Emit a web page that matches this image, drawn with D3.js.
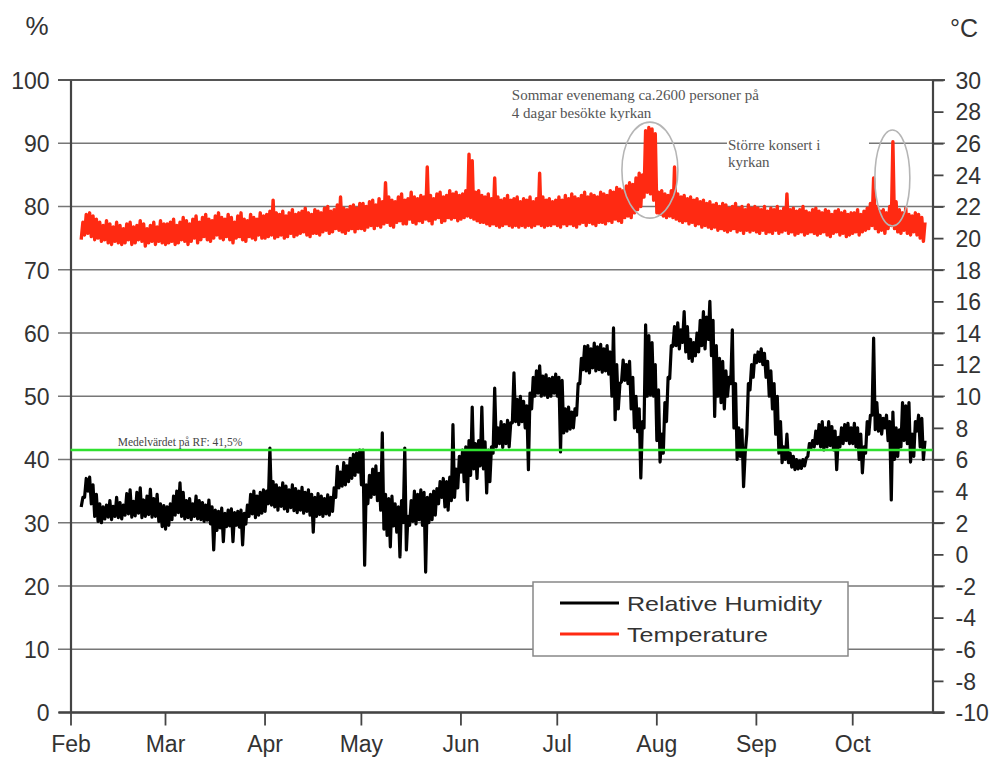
<!DOCTYPE html>
<html>
<head>
<meta charset="utf-8">
<script src="https://cdn.jsdelivr.net/npm/d3@7"></script>
<style>
  html, body { margin: 0; padding: 0; background: #fff; }
  svg { display: block; }
  .tick text { font-family: "Liberation Sans", Arial, sans-serif; font-size: 23px; fill: #333; }
</style>
</head>
<body>
<svg id="chart" width="991" height="757"></svg>
<script>
// First day of each block of daily readings (one block per month)
const blockStart = ["2010-02-04", "2010-03-01", "2010-04-01", "2010-05-01", "2010-06-01",
                    "2010-07-01", "2010-08-01", "2010-09-01", "2010-10-01"];

// Relative humidity, daily maximum (%)
const rhHigh = [
  [34.0, 37.0, 37.2, 36.0, 34.5, 33.0, 32.5, 32.8, 33.5, 32.6, 34.0, 33.2, 32.8, 34.6, 35.2, 33.4, 34.8, 35.5, 33.6, 34.2, 35.3, 33.8, 34.5, 33.0, 32.7],
  [32.5, 33.0, 34.2, 35.0, 36.3, 34.8, 33.5, 33.8, 33.0, 34.2, 33.5, 33.2, 32.8, 33.6, 32.5, 32.0, 31.8, 32.3, 31.5, 32.0, 32.2, 31.6, 31.8, 32.0, 31.5, 32.8, 34.5, 35.0, 34.2, 34.8, 35.2],
  [35.0, 41.8, 36.5, 36.0, 35.5, 36.3, 35.8, 35.2, 36.0, 35.4, 35.0, 35.6, 34.8, 35.2, 34.5, 34.0, 34.6, 34.2, 33.8, 34.4, 34.0, 35.5, 38.9, 38.0, 39.5, 39.0, 40.2, 40.8, 41.0, 41.5],
  [41.5, 36.0, 37.5, 38.5, 39.0, 37.8, 44.2, 34.5, 33.8, 34.2, 33.0, 32.5, 33.5, 41.8, 31.0, 33.5, 35.0, 34.5, 35.2, 34.8, 34.0, 34.5, 35.0, 35.4, 36.5, 37.0, 36.5, 37.2, 45.5, 38.5, 40.5],
  [41.5, 42.0, 43.0, 48.3, 42.5, 43.0, 48.3, 42.8, 41.5, 42.0, 51.3, 45.0, 46.0, 45.5, 46.2, 45.8, 53.7, 49.5, 50.0, 49.2, 48.5, 50.5, 53.0, 54.0, 54.8, 53.2, 53.4, 52.8, 53.0, 53.5],
  [53.0, 52.5, 48.0, 48.3, 47.5, 48.0, 52.0, 56.0, 57.9, 58.0, 57.5, 58.4, 57.8, 58.2, 57.5, 58.0, 57.0, 60.8, 55.0, 52.0, 55.7, 55.0, 55.5, 53.0, 50.0, 48.0, 46.0, 61.3, 59.6, 58.5, 55.0],
  [51.0, 44.0, 49.0, 53.0, 58.0, 61.0, 61.6, 60.5, 63.4, 61.0, 59.0, 58.5, 60.0, 62.0, 63.4, 62.5, 65.0, 62.0, 58.0, 56.0, 55.5, 54.0, 53.0, 60.5, 52.0, 45.0, 44.7, 41.0, 52.0, 55.0, 56.5],
  [57.0, 57.5, 56.8, 55.5, 54.0, 52.0, 50.0, 46.0, 42.0, 44.0, 41.0, 40.5, 40.0, 39.8, 40.0, 40.2, 42.5, 43.0, 44.5, 45.5, 46.0, 45.0, 46.0, 45.2, 44.5, 43.5, 45.0, 45.5, 45.7, 45.0],
  [45.7, 45.0, 44.0, 42.0, 46.0, 47.0, 59.2, 49.0, 47.0, 46.5, 47.0, 46.0, 47.5, 45.0, 44.7, 49.0, 48.5, 49.0, 44.0, 46.0, 47.0, 46.5, 43.0]
];

// Relative humidity, daily minimum (%)
const rhLow = [
  [32.5, 34.0, 35.0, 33.0, 31.0, 30.2, 30.0, 30.6, 30.9, 30.5, 31.0, 30.8, 30.6, 31.2, 31.4, 30.9, 31.1, 31.5, 30.8, 31.0, 31.3, 30.9, 31.0, 30.2, 29.4],
  [29.0, 29.6, 30.5, 31.2, 31.6, 31.0, 30.6, 30.8, 30.5, 31.0, 30.6, 30.5, 30.2, 30.4, 29.8, 25.7, 28.8, 29.2, 27.0, 29.4, 29.5, 27.0, 29.6, 29.3, 26.5, 29.8, 31.0, 31.4, 30.8, 31.2, 31.5],
  [31.8, 33.0, 32.8, 32.5, 32.0, 32.6, 32.2, 31.8, 32.4, 31.9, 31.6, 32.0, 31.5, 31.8, 31.2, 28.5, 31.0, 31.3, 31.0, 31.4, 31.2, 31.8, 34.0, 35.5, 35.8, 36.0, 36.5, 37.0, 37.5, 38.0],
  [36.0, 23.3, 33.0, 34.0, 34.5, 33.5, 32.0, 29.0, 28.0, 26.2, 29.5, 28.5, 24.6, 30.0, 25.7, 29.6, 30.2, 29.8, 30.5, 29.6, 22.2, 30.0, 30.5, 31.2, 33.0, 34.0, 32.5, 32.0, 33.5, 34.0, 35.5],
  [38.0, 36.5, 33.6, 37.5, 38.5, 37.0, 39.0, 38.5, 34.7, 36.5, 41.0, 42.0, 42.5, 41.9, 42.5, 42.0, 45.8, 46.0, 45.5, 46.0, 45.0, 38.4, 48.0, 50.0, 50.5, 50.0, 50.2, 49.8, 50.0, 50.5],
  [50.0, 41.2, 44.2, 44.5, 44.8, 45.0, 47.0, 52.0, 54.2, 54.0, 53.7, 54.5, 54.0, 54.2, 53.8, 54.0, 53.5, 50.0, 46.3, 48.0, 52.3, 52.5, 52.0, 48.0, 45.0, 44.4, 37.1, 45.0, 50.0, 50.2, 50.0],
  [43.0, 39.6, 41.0, 46.0, 52.8, 57.9, 58.0, 57.5, 58.5, 57.0, 56.0, 55.5, 56.4, 57.0, 58.0, 57.5, 59.0, 56.4, 46.8, 50.0, 49.0, 48.0, 50.0, 52.0, 45.0, 40.0, 40.5, 35.7, 44.0, 51.0, 53.0],
  [55.3, 55.5, 55.0, 53.0, 50.0, 48.0, 44.0, 41.0, 39.5, 40.0, 39.5, 38.8, 38.4, 38.5, 38.6, 39.0, 40.5, 41.8, 42.0, 42.5, 42.0, 41.5, 42.0, 42.2, 41.5, 38.4, 42.0, 42.5, 43.0, 42.5],
  [42.5, 42.0, 40.0, 37.9, 41.0, 44.0, 47.0, 44.7, 44.5, 44.0, 45.0, 43.0, 33.6, 40.0, 40.5, 42.0, 43.0, 42.5, 39.6, 40.5, 44.5, 42.0, 40.0]
];

// Temperature, daily maximum (°C)
const tempHigh = [
  [21.0, 21.5, 21.6, 21.4, 21.2, 21.0, 20.8, 21.1, 20.9, 20.7, 21.0, 20.8, 20.6, 20.9, 21.0, 20.7, 20.8, 21.1, 20.9, 20.6, 20.8, 21.0, 20.7, 21.1, 20.9],
  [20.9, 21.0, 21.2, 20.8, 21.0, 21.3, 21.1, 20.9, 21.2, 21.4, 21.0, 21.3, 21.5, 21.2, 21.1, 21.4, 21.6, 21.3, 21.2, 21.5, 21.3, 21.0, 21.4, 21.6, 21.2, 21.1, 21.5, 21.3, 21.2, 21.6, 21.4],
  [21.5, 21.7, 22.4, 21.6, 21.5, 21.7, 21.4, 21.6, 21.8, 21.5, 21.6, 21.7, 21.9, 21.6, 21.5, 21.8, 21.7, 21.6, 21.9, 22.0, 21.7, 21.8, 22.1, 22.6, 21.9, 21.8, 22.0, 22.1, 21.9, 22.2],
  [22.2, 22.0, 22.3, 22.4, 22.1, 22.5, 22.3, 23.5, 22.6, 22.4, 22.3, 22.6, 22.8, 22.4, 22.5, 22.9, 22.6, 22.5, 22.7, 22.6, 24.5, 22.7, 22.5, 22.8, 22.9, 22.6, 22.7, 23.0, 22.8, 22.9, 22.7],
  [22.8, 23.0, 25.3, 24.9, 22.9, 23.0, 22.7, 22.6, 22.8, 22.5, 23.8, 22.6, 22.4, 22.5, 22.7, 22.4, 22.5, 22.6, 22.3, 22.5, 22.4, 22.6, 22.3, 22.5, 24.1, 22.6, 22.4, 22.5, 22.3, 22.4],
  [22.6, 22.4, 22.7, 22.5, 22.8, 22.6, 22.5, 22.7, 22.9, 22.6, 22.8, 22.7, 22.6, 22.9, 22.8, 22.7, 23.0, 22.9, 23.2, 23.1, 23.0, 23.3, 23.5, 23.4, 23.8, 24.1, 24.0, 26.8, 27.0, 26.9, 26.6],
  [22.9, 23.0, 22.8, 22.7, 23.0, 24.5, 22.8, 22.6, 22.7, 22.5, 22.6, 22.4, 22.5, 22.3, 22.4, 22.2, 22.3, 22.1, 22.2, 22.0, 22.2, 22.1, 21.9, 22.0, 22.2, 21.9, 22.0, 21.8, 22.1, 21.9, 22.0],
  [21.9, 21.8, 22.0, 21.7, 21.9, 21.8, 22.0, 21.7, 21.9, 22.8, 21.8, 21.9, 21.7, 21.8, 22.0, 21.7, 21.6, 21.8, 21.9, 21.7, 21.6, 21.8, 21.7, 21.5, 21.7, 21.8, 21.6, 21.7, 21.5, 21.6],
  [21.6, 21.8, 21.5, 21.7, 21.9, 22.2, 23.8, 22.0, 21.7, 21.8, 21.6, 22.0, 26.1, 22.3, 21.8, 21.6, 21.9, 21.5, 21.4, 21.6, 21.5, 21.3, 21.0]
];

// Temperature, daily minimum (°C)
const tempLow = [
  [19.9, 20.2, 20.3, 20.1, 19.9, 20.0, 19.8, 19.9, 19.7, 19.6, 19.8, 19.7, 19.6, 19.7, 19.9, 19.6, 19.7, 19.9, 19.8, 19.5, 19.7, 19.8, 19.6, 19.8, 19.7],
  [19.6, 19.7, 19.8, 19.6, 19.7, 19.9, 19.8, 19.6, 19.8, 20.0, 19.7, 19.9, 20.1, 19.9, 19.8, 20.0, 20.2, 20.0, 19.9, 20.1, 19.9, 19.7, 20.0, 20.1, 19.9, 19.8, 20.1, 20.0, 19.9, 20.2, 20.0],
  [20.0, 20.1, 20.2, 20.0, 20.1, 20.2, 20.0, 20.1, 20.3, 20.1, 20.2, 20.3, 20.4, 20.2, 20.1, 20.3, 20.3, 20.2, 20.4, 20.5, 20.3, 20.4, 20.6, 20.5, 20.4, 20.3, 20.5, 20.6, 20.4, 20.6],
  [20.6, 20.5, 20.7, 20.8, 20.6, 20.8, 20.7, 20.9, 21.0, 20.8, 20.7, 21.0, 21.1, 20.9, 20.9, 21.2, 21.0, 20.9, 21.1, 21.0, 21.2, 21.1, 20.9, 21.2, 21.3, 21.0, 21.1, 21.3, 21.2, 21.3, 21.1],
  [21.2, 21.3, 21.4, 21.3, 21.2, 21.1, 21.0, 21.0, 20.9, 20.8, 20.9, 20.8, 20.7, 20.8, 20.9, 20.8, 20.7, 20.8, 20.7, 20.8, 20.7, 20.8, 20.7, 20.8, 20.9, 20.8, 20.7, 20.8, 20.8, 20.9],
  [20.8, 20.7, 20.9, 20.8, 20.9, 20.8, 20.7, 20.9, 21.0, 20.8, 21.0, 20.9, 20.8, 21.0, 21.0, 20.9, 21.1, 21.0, 21.2, 21.1, 21.0, 21.3, 21.4, 21.3, 21.6, 21.8, 22.0, 22.6, 22.9, 22.8, 22.4],
  [21.6, 21.5, 21.4, 21.3, 21.4, 21.3, 21.2, 21.1, 21.0, 21.1, 20.9, 21.0, 20.8, 20.9, 20.7, 20.8, 20.7, 20.6, 20.7, 20.5, 20.6, 20.5, 20.4, 20.5, 20.6, 20.4, 20.5, 20.3, 20.5, 20.4, 20.5],
  [20.4, 20.3, 20.5, 20.3, 20.4, 20.3, 20.5, 20.3, 20.4, 20.5, 20.3, 20.4, 20.2, 20.3, 20.4, 20.2, 20.3, 20.4, 20.3, 20.2, 20.3, 20.4, 20.2, 20.1, 20.3, 20.4, 20.2, 20.3, 20.1, 20.2],
  [20.3, 20.4, 20.2, 20.4, 20.5, 20.6, 20.8, 20.6, 20.4, 20.5, 20.3, 20.6, 20.8, 20.6, 20.4, 20.3, 20.5, 20.3, 20.2, 20.4, 20.2, 20.0, 19.8]
];

// Axis ticks and labels
const rhTicks = [0, 10, 20, 30, 40, 50, 60, 70, 80, 90, 100];
const tempTicks = [-10, -8, -6, -4, -2, 0, 2, 4, 6, 8, 10, 12, 14, 16, 18, 20, 22, 24, 26, 28, 30];
const monthTicks = ["2010-02-01", "2010-03-01", "2010-04-01", "2010-05-01", "2010-06-01",
                    "2010-07-01", "2010-08-01", "2010-09-01", "2010-10-01"];
const meanRH = 41.5;
const seriesNames = ["Relative Humidity", "Temperature"];

const parse = d3.timeParse("%Y-%m-%d");
const svg = d3.select("#chart");

const plot = { left: 70.5, right: 932.5, top: 80, bottom: 712.5 };

// Time axis: February is drawn a little wider than the other months
const x = d3.scaleTime()
  .domain([parse("2010-02-01"), parse("2010-03-01"), parse("2010-10-26")])
  .range([plot.left, 165, plot.right]);
const yRH = d3.scaleLinear().domain([0, 100]).range([plot.bottom, plot.top]);
const yT = d3.scaleLinear().domain([-10, 30]).range([plot.bottom, plot.top]);

// Interleave daily minima and maxima into one continuous trace
function trace(high, low) {
  const pts = [];
  blockStart.forEach((s, m) => {
    const d0 = parse(s);
    high[m].forEach((h, i) => {
      const day = d3.timeDay.offset(d0, i);
      pts.push({ t: d3.timeHour.offset(day, 4), v: low[m][i] });
      pts.push({ t: d3.timeHour.offset(day, 16), v: h });
    });
  });
  return pts;
}
const rhData = trace(rhHigh, rhLow);
const tData = trace(tempHigh, tempLow);

// Horizontal gridlines every 10 %
svg.append("g").selectAll("line").data(rhTicks).join("line")
  .attr("x1", 58).attr("x2", 945)
  .attr("y1", d => yRH(d)).attr("y2", d => yRH(d))
  .attr("stroke", d => d === 100 ? "#555" : "#777")
  .attr("stroke-width", d => d === 100 ? 2.2 : 1.6);

// Axes
const axisStyle = g => {
  g.selectAll(".tick line").attr("stroke", "#444").attr("stroke-width", 1.8);
  g.select(".domain").attr("stroke", "#444").attr("stroke-width", 2.2);
};

svg.append("g")
  .attr("transform", `translate(${plot.left},0)`)
  .call(d3.axisLeft(yRH).tickValues(rhTicks).tickSize(0).tickPadding(21).tickSizeOuter(0))
  .call(axisStyle)
  .call(g => g.selectAll(".tick text").attr("dy", "0.36em"));

svg.append("g")
  .attr("transform", `translate(${plot.right},0)`)
  .call(d3.axisRight(yT).tickValues(tempTicks).tickFormat(d => String(d))
        .tickSize(11).tickPadding(12).tickSizeOuter(0))
  .call(axisStyle)
  .call(g => g.selectAll(".tick text").attr("dy", "0.36em"));

svg.append("g")
  .attr("transform", `translate(0,${plot.bottom})`)
  .call(d3.axisBottom(x).tickValues(monthTicks.map(parse)).tickFormat(d3.timeFormat("%b"))
        .tickSize(13).tickPadding(10).tickSizeOuter(0))
  .call(axisStyle)
  .call(g => g.select(".domain").attr("d", `M${plot.left - 12},0H${plot.right + 12}`).attr("stroke-width", 2.6));

// Unit labels
svg.append("text").attr("x", 37).attr("y", 35).attr("text-anchor", "middle")
  .attr("font-family", "Liberation Sans, Arial, sans-serif").attr("font-size", 26).attr("fill", "#333")
  .text("%");
svg.append("text").attr("x", 964).attr("y", 37).attr("text-anchor", "middle")
  .attr("font-family", "Liberation Sans, Arial, sans-serif").attr("font-size", 25).attr("fill", "#333")
  .text("°C");

// Data traces
const lineRH = d3.line().x(d => x(d.t)).y(d => yRH(d.v));
const lineT = d3.line().x(d => x(d.t)).y(d => yT(d.v));

svg.append("path").datum(rhData).attr("d", lineRH)
  .attr("fill", "none").attr("stroke", "#000").attr("stroke-width", 3.2)
  .attr("stroke-linejoin", "round");
svg.append("path").datum(tData).attr("d", lineT)
  .attr("fill", "none").attr("stroke", "#ff2a12").attr("stroke-width", 3.4)
  .attr("stroke-linejoin", "round");

// Mean relative humidity
svg.append("line")
  .attr("x1", plot.left).attr("x2", plot.right)
  .attr("y1", yRH(meanRH)).attr("y2", yRH(meanRH))
  .attr("stroke", "#2fe02f").attr("stroke-width", 2.6);
svg.append("text")
  .attr("x", x(parse("2010-02-15"))).attr("y", yRH(meanRH) - 4)
  .attr("font-family", "Liberation Serif, Times New Roman, serif").attr("font-size", 11.5).attr("fill", "#444")
  .text("Medelvärdet på RF: 41,5%");

// Event annotations
const serif = "Liberation Serif, Times New Roman, serif";
svg.append("ellipse")
  .attr("cx", x(parse("2010-07-30"))).attr("cy", yT(24.3))
  .attr("rx", 28).attr("ry", 48)
  .attr("fill", "none").attr("stroke", "#b5b5b5").attr("stroke-width", 1.6);
svg.append("ellipse")
  .attr("cx", x(d3.timeHour.offset(parse("2010-10-13"), 12))).attr("cy", yT(23.8))
  .attr("rx", 17.5).attr("ry", 48)
  .attr("fill", "none").attr("stroke", "#b5b5b5").attr("stroke-width", 1.6);

const note1 = svg.append("text")
  .attr("font-family", serif).attr("font-size", 15).attr("fill", "#555");
note1.append("tspan").attr("x", x(parse("2010-06-17"))).attr("y", yRH(96.8))
  .text("Sommar evenemang ca.2600 personer på");
note1.append("tspan").attr("x", x(parse("2010-06-17"))).attr("dy", 17.6)
  .text("4 dagar besökte kyrkan");

const note2x = x(parse("2010-08-23"));
svg.append("rect").attr("x", note2x).attr("y", yRH(90) - 8).attr("width", 142).attr("height", 37)
  .attr("fill", "#fff");
const note2 = svg.append("text")
  .attr("font-family", serif).attr("font-size", 15).attr("fill", "#555");
note2.append("tspan").attr("x", note2x + 1).attr("y", yRH(89))
  .text("Större konsert i");
note2.append("tspan").attr("x", note2x + 1).attr("dy", 17.6)
  .text("kyrkan");

// Legend
const legend = svg.append("g").attr("transform", "translate(533,582)");
legend.append("rect").attr("width", 315).attr("height", 74)
  .attr("fill", "#fff").attr("stroke", "#888").attr("stroke-width", 1.5);
const legendColors = ["#000", "#ff2a12"];
seriesNames.forEach((name, i) => {
  const yy = 21 + i * 31;
  legend.append("line").attr("x1", 27).attr("x2", 86).attr("y1", yy).attr("y2", yy)
    .attr("stroke", legendColors[i]).attr("stroke-width", 3.2);
  legend.append("text").attr("x", 94).attr("y", yy + 7.5)
    .attr("font-family", "Liberation Sans, Arial, sans-serif").attr("font-size", 21).attr("fill", "#333")
    .attr("textLength", i === 0 ? 195 : 141).attr("lengthAdjust", "spacingAndGlyphs")
    .text(name);
});
</script>
</body>
</html>
